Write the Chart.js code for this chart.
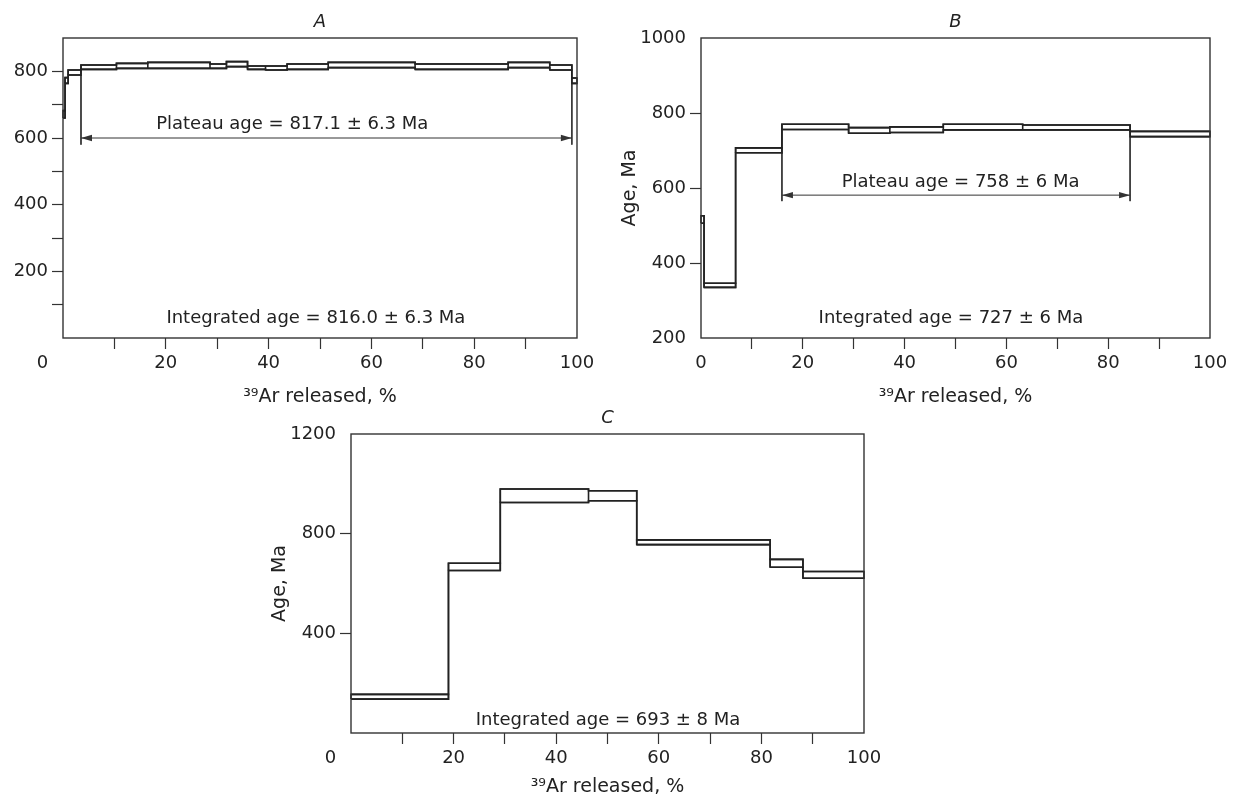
<!DOCTYPE html>
<html>
<head>
<meta charset="utf-8">
<script src="https://cdn.jsdelivr.net/npm/chart.js"></script>
<style>
  body { margin: 0; background: #fff; }
  canvas { position: absolute; }
  #chartA { left: 0; top: 0; }
  #chartB { left: 617px; top: 0; }
  #chartC { left: 250px; top: 400px; }
</style>
</head>
<body>
<canvas id="chartA" width="617" height="410"></canvas>
<canvas id="chartB" width="617" height="410"></canvas>
<canvas id="chartC" width="650" height="402"></canvas>
<script>
// Spectrum A: step boundaries (% 39Ar released) and age limits (Ma)
const stepsA = [0, 0.4, 1.0, 3.5, 10.4, 16.5, 28.6, 31.8, 35.9, 39.4, 43.6, 51.6, 68.5, 86.6, 94.7, 99.0, 100];
const hiA = [682, 781, 804, 819, 824, 827, 822, 829, 816, 816, 822, 827, 822, 827, 819, 780];
const loA = [660, 764, 789, 806, 809, 809, 809, 814, 806, 804, 806, 811, 806, 811, 804, 764];
const plateauA = [3.5, 99.0];
const yLabelsA = [200, 400, 600, 800];
const xLabelsA = [20, 40, 60, 80, 100];

// Spectrum B
const stepsB = [0, 0.6, 6.8, 15.9, 29.0, 37.1, 47.6, 63.2, 84.3, 100];
const hiB = [526, 346, 707, 770, 761, 763, 770, 768, 751];
const loB = [506, 335, 694, 756, 746, 748, 755, 755, 737];
const plateauB = [15.9, 84.3];
const yLabelsB = [200, 400, 600, 800, 1000];
const xLabelsB = [0, 20, 40, 60, 80, 100];

// Spectrum C
const stepsC = [0, 19.0, 29.1, 46.3, 55.7, 81.7, 88.1, 100];
const hiC = [155, 681, 979, 972, 775, 697, 648];
const loC = [136, 652, 925, 932, 756, 665, 621];
const yLabelsC = [400, 800, 1200];
const xLabelsC = [20, 40, 60, 80, 100];

const FONT = '"DejaVu Sans"';
const INK = '#222';
Chart.defaults.font.family = FONT;
Chart.defaults.color = INK;

// rectangles, one per heating step, separated by gaps
function boxes(steps, hi, lo) {
    const pts = [];
    hi.forEach((h, i) => {
        const x0 = steps[i], x1 = steps[i + 1];
        pts.push({x: x0, y: lo[i]}, {x: x0, y: h}, {x: x1, y: h},
                 {x: x1, y: lo[i]}, {x: x0, y: lo[i]}, {x: x1, y: null});
    });
    return pts;
}

function stepLine(steps, vals) {
    const pts = vals.map((v, i) => ({x: steps[i], y: v}));
    pts.push({x: steps[steps.length - 1], y: vals[vals.length - 1]});
    return pts;
}

// vertical plateau limits + horizontal arrow shaft
function plateauLines(steps, lo, plateau, arrowAge, markBottom) {
    const pts = [];
    plateau.forEach(p => {
        const i = steps.indexOf(p);
        const top = Math.min(lo[i - 1], lo[i]);
        pts.push({x: p, y: top}, {x: p, y: markBottom}, {x: p, y: null});
    });
    pts.push({x: plateau[0], y: arrowAge}, {x: plateau[1], y: arrowAge});
    return pts;
}

const decor = {
    id: 'decor',
    afterDatasetsDraw(chart, args, opts) {
        const {ctx, chartArea: a, scales: {x, y}} = chart;
        ctx.save();
        ctx.strokeStyle = '#333';
        ctx.lineWidth = 1.4;
        ctx.strokeRect(a.left, a.top, a.right - a.left, a.bottom - a.top);

        ctx.fillStyle = INK;
        ctx.textAlign = 'center';
        ctx.textBaseline = 'alphabetic';
        ctx.font = 'italic 18px ' + FONT;
        ctx.fillText(opts.letter, (a.left + a.right) / 2, a.top - 11);

        ctx.font = '18px ' + FONT;
        opts.notes.forEach(n => ctx.fillText(n.text, x.getPixelForValue(n.x), y.getPixelForValue(n.y)));

        if (opts.arrow) {
            const ay = y.getPixelForValue(opts.arrow.age);
            const ends = [[x.getPixelForValue(opts.arrow.from), 1], [x.getPixelForValue(opts.arrow.to), -1]];
            ctx.fillStyle = '#333';
            ends.forEach(([px, dir]) => {
                ctx.beginPath();
                ctx.moveTo(px, ay);
                ctx.lineTo(px + dir * 11, ay - 3.2);
                ctx.lineTo(px + dir * 11, ay + 3.2);
                ctx.closePath();
                ctx.fill();
            });
            ctx.fillStyle = INK;
        }

        if (opts.zeroShift) {
            ctx.textBaseline = 'middle';
            ctx.fillText('0', x.getPixelForValue(0) + opts.zeroShift, a.bottom + 11 + 4 + 10.8);
        }
        ctx.restore();
    }
};

function makeChart(cfg) {
    const hideEnds = (min, max) => c =>
        (c.tick && (Math.round(c.tick.value) === min || Math.round(c.tick.value) === max)) ? 'rgba(0,0,0,0)' : '#333';
    const line = {pointRadius: 0, borderColor: INK, borderWidth: 1.6, fill: false, tension: 0, clip: 6};
    const datasets = [
        {...line, data: boxes(cfg.steps, cfg.hi, cfg.lo)},
        {...line, data: stepLine(cfg.steps, cfg.hi), stepped: 'before'},
        {...line, data: stepLine(cfg.steps, cfg.lo), stepped: 'before'}
    ];
    if (cfg.plateau) {
        datasets.push({...line, borderWidth: 1, borderColor: '#333',
            data: plateauLines(cfg.steps, cfg.lo, cfg.plateau, cfg.arrowAge, cfg.markBottom)});
    }
    return new Chart(document.getElementById(cfg.canvas), {
        type: 'line',
        data: {datasets},
        plugins: [decor],
        options: {
            responsive: false,
            animation: false,
            devicePixelRatio: 1,
            layout: {padding: cfg.padding},
            plugins: {
                legend: {display: false},
                tooltip: {enabled: false},
                decor: {
                    letter: cfg.letter,
                    notes: cfg.notes,
                    zeroShift: cfg.zeroShift,
                    arrow: cfg.plateau ? {from: cfg.plateau[0], to: cfg.plateau[1], age: cfg.arrowAge} : null
                }
            },
            scales: {
                x: {
                    type: 'linear', min: 0, max: 100,
                    afterFit: s => { s.height = cfg.xHeight; },
                    border: {display: false},
                    grid: {drawOnChartArea: false, tickLength: 11, tickWidth: 1.2,
                           color: hideEnds(0, 100), tickColor: hideEnds(0, 100)},
                    ticks: {stepSize: 10, autoSkip: false, maxRotation: 0, padding: 4,
                            font: {size: 18}, color: INK,
                            callback: v => cfg.xLabels.includes(Math.round(v)) ? Math.round(v) : ''},
                    title: {display: true, text: '³⁹Ar released, %', color: INK,
                            font: {size: 19}, padding: {top: 0, bottom: cfg.xTitlePad}}
                },
                y: {
                    type: 'linear', min: cfg.yMin, max: cfg.yMax,
                    afterFit: s => { s.width = cfg.yWidth; },
                    border: {display: false},
                    grid: {drawOnChartArea: false, tickLength: 11, tickWidth: 1.2,
                           color: hideEnds(cfg.yMin, cfg.yMax), tickColor: hideEnds(cfg.yMin, cfg.yMax)},
                    ticks: {stepSize: cfg.yStep, autoSkip: false, padding: 4,
                            font: {size: 18}, color: INK,
                            callback: v => cfg.yLabels.includes(Math.round(v)) ? Math.round(v) : ''},
                    title: {display: !!cfg.yTitle, text: cfg.yTitle || '', color: INK,
                            font: {size: 19}, padding: {top: cfg.yTitlePad, bottom: 0}}
                }
            }
        }
    });
}

makeChart({
    canvas: 'chartA', letter: 'A',
    steps: stepsA, hi: hiA, lo: loA,
    plateau: plateauA, arrowAge: 600, markBottom: 580,
    yMin: 0, yMax: 900, yStep: 100, yLabels: yLabelsA, yTitle: null,
    xLabels: xLabelsA, zeroShift: -20.5,
    padding: {left: 0, top: 38, right: 40, bottom: 0},
    yWidth: 63, xHeight: 72, xTitlePad: 2, yTitlePad: 0,
    notes: [
        {text: 'Plateau age = 817.1 ± 6.3 Ma', x: 44.6, y: 626},
        {text: 'Integrated age = 816.0 ± 6.3 Ma', x: 49.2, y: 44}
    ]
});

makeChart({
    canvas: 'chartB', letter: 'B',
    steps: stepsB, hi: hiB, lo: loB,
    plateau: plateauB, arrowAge: 581, markBottom: 565,
    yMin: 200, yMax: 1000, yStep: 200, yLabels: yLabelsB, yTitle: 'Age, Ma',
    xLabels: xLabelsB, zeroShift: 0,
    padding: {left: 0, top: 38, right: 24, bottom: 0},
    yWidth: 84, xHeight: 72, xTitlePad: 2, yTitlePad: 1.6,
    notes: [
        {text: 'Plateau age = 758 ± 6 Ma', x: 51.0, y: 603},
        {text: 'Integrated age = 727 ± 6 Ma', x: 49.1, y: 239}
    ]
});

makeChart({
    canvas: 'chartC', letter: 'C',
    steps: stepsC, hi: hiC, lo: loC,
    plateau: null,
    yMin: 0, yMax: 1200, yStep: 400, yLabels: yLabelsC, yTitle: 'Age, Ma',
    xLabels: xLabelsC, zeroShift: -20.5,
    padding: {left: 0, top: 34, right: 36, bottom: 0},
    yWidth: 101, xHeight: 69, xTitlePad: 4, yTitlePad: 18.6,
    notes: [
        {text: 'Integrated age = 693 ± 8 Ma', x: 50.1, y: 32}
    ]
});
</script>
</body>
</html>
